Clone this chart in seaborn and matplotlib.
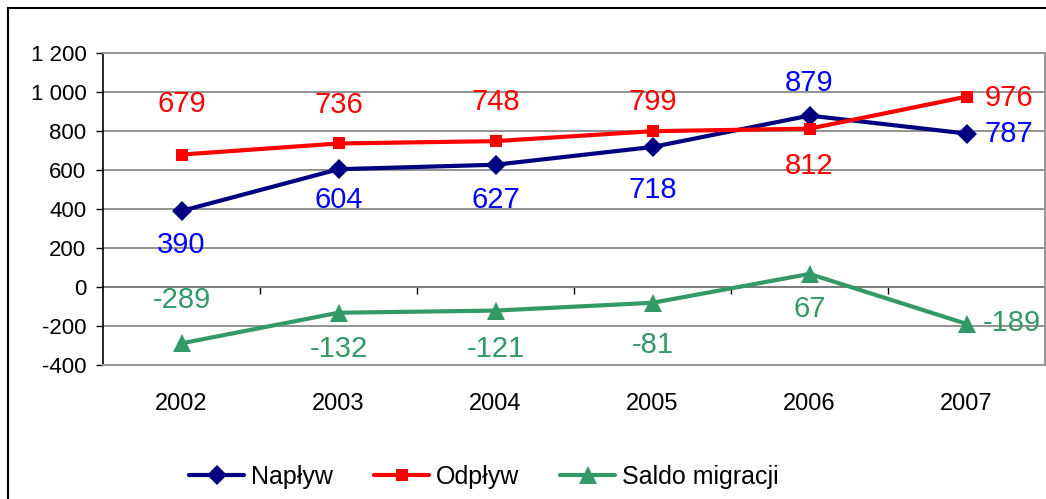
import matplotlib
matplotlib.use("Agg")
import matplotlib.pyplot as plt
import matplotlib.patches as mpatches
import seaborn as sns
import pandas as pd

years = ["2002", "2003", "2004", "2005", "2006", "2007"]
naplyw = [390, 604, 627, 718, 879, 787]
odplyw = [679, 736, 748, 799, 812, 976]
saldo = [-289, -132, -121, -81, 67, -189]
series_names = ["Napływ", "Odpływ", "Saldo migracji"]
y_ticks = [-400, -200, 0, 200, 400, 600, 800, 1000, 1200]
y_tick_labels = ["-400", "-200", "0", "200", "400", "600", "800", "1 000", "1 200"]

sns.set_theme(style="white")
plt.rcParams["font.family"] = ["Liberation Sans", "DejaVu Sans"]

fig = plt.figure(figsize=(10.46, 4.99), dpi=100)
ax = fig.add_axes([103 / 1046, 134 / 499, 942 / 1046, 312 / 499])

pos = list(range(len(years)))
df = pd.DataFrame({
    "pos": pos * 3,
    "value": naplyw + odplyw + saldo,
    "series": [series_names[0]] * 6 + [series_names[1]] * 6 + [series_names[2]] * 6,
})

line_colors = {"Napływ": "#000080", "Odpływ": "#FF0000", "Saldo migracji": "#339966"}
label_colors = {"Napływ": "#0000FF", "Odpływ": "#FF0000", "Saldo migracji": "#339966"}
markers = {"Napływ": "D", "Odpływ": "s", "Saldo migracji": "^"}
msizes = {"Napływ": 10, "Odpływ": 8, "Saldo migracji": 13}

for name in series_names:
    sub = df[df["series"] == name]
    sns.lineplot(data=sub, x="pos", y="value", ax=ax, color=line_colors[name],
                 marker=markers[name], markersize=msizes[name], markeredgewidth=0,
                 linewidth=3, label=name, zorder=3)

# data-label offsets from each point, in pixels (dx, dy); dx > 0 means left-aligned at right
label_offsets = {
    "Napływ": [(0, -34), (0, -31), (0, -35), (0, -43), (0, 33), (18, 0)],
    "Odpływ": [(0, 51), (0, 38), (0, 39), (0, 29), (0, -37), (18, -1)],
    "Saldo migracji": [(0, 43), (0, -36), (0, -38), (0, -42), (0, -35), (16, 1)],
}
for name in series_names:
    sub = df[df["series"] == name]
    for (x, v), off in zip(zip(sub["pos"], sub["value"]), label_offsets[name]):
        ha = "left" if off[0] > 0 else "center"
        ax.annotate(str(v), (x, v), xytext=off, textcoords="offset pixels",
                    ha=ha, va="center", fontsize=21, color=label_colors[name],
                    zorder=4, annotation_clip=False)

ax.set_xlim(-0.5, len(years) - 0.5)
ax.set_ylim(-400, 1200)
ax.set_yticks(y_ticks)
ax.set_yticklabels(y_tick_labels)
ax.set_xticks(pos)
ax.set_xticklabels(years)
ax.set_xlabel("")
ax.set_ylabel("")
ax.tick_params(axis="y", which="major", length=5, width=1, direction="out",
               left=True, labelsize=16, pad=7, color="black", labelcolor="black")
ax.tick_params(axis="x", which="major", length=0, labelsize=17, pad=20,
               labelcolor="black")
ax.yaxis.grid(True, color="#808080", linewidth=1.2)
ax.xaxis.grid(False)
ax.set_axisbelow(True)
for s in ["top", "right", "bottom"]:
    ax.spines[s].set_color("#999999")
    ax.spines[s].set_linewidth(1.5)
ax.spines["left"].set_color("black")
ax.spines["left"].set_linewidth(1.2)

# category boundary ticks along the zero line
sec = ax.secondary_xaxis(400 / 1600)
sec.set_xticks([p + 0.5 for p in pos[:-1]])
sec.set_xticklabels([])
sec.tick_params(length=5, width=1, direction="out", color="black")
sec.spines["bottom"].set_color("#606060")
sec.spines["bottom"].set_linewidth(1.2)

ax.legend_.remove()
handles, labels = ax.get_legend_handles_labels()
fig.legend(handles, labels, loc="center", bbox_to_anchor=(484 / 1046, 1 - 477 / 499),
           ncol=3, frameon=False, fontsize=18, handlelength=2.2,
           handletextpad=0.28, columnspacing=1.64, labelcolor="black")

# outer chart frame
fig.patches.append(mpatches.Rectangle((8 / 1046, -0.05), 1.1, 1 - 8 / 499 + 0.05,
                                      transform=fig.transFigure, fill=False,
                                      edgecolor="black", linewidth=1.5))

fig.savefig("out.png", dpi=100)
